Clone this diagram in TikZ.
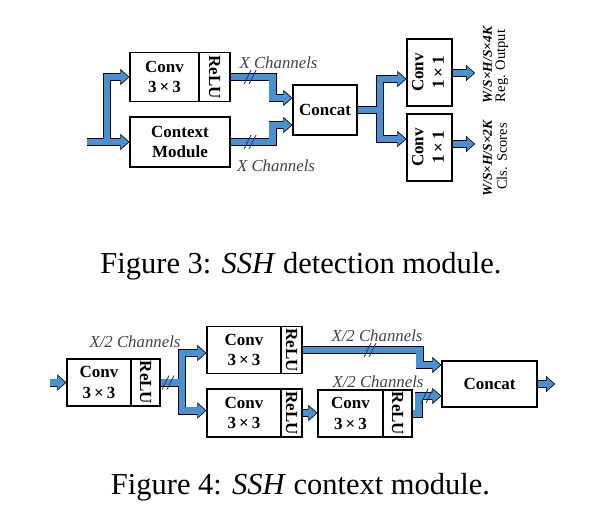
\documentclass[tikz,border=0pt]{standalone}
\usepackage{fontspec}
\setmainfont{Liberation Serif}
\usetikzlibrary{arrows.meta,calc}
\pgfdeclarelayer{bandbg}
\pgfsetlayers{bandbg,main}
\definecolor{bandblue}{RGB}{72,145,210}
\definecolor{slashblue}{RGB}{30,60,140}
\definecolor{labgray}{RGB}{65,65,65}
\tikzset{
  box/.style={draw, line width=1.3pt, inner sep=0pt, align=center,
    font=\fontsize{17}{20.5}\selectfont\bfseries},
  bandout/.style={draw=black, line width=8pt, line join=miter,
    -{Triangle[length=9pt,width=16pt,line width=0.1pt]}},
  bandin/.style={draw=bandblue, line width=6.4pt, line join=miter, shorten >=1.2pt,
    -{Triangle[length=7pt,width=12.4pt,line width=0.1pt]}},
  slash/.style={draw=slashblue, line width=0.9pt},
  chlab/.style={font=\fontsize{16.8}{19}\selectfont\itshape, text=labgray, inner sep=0pt},
  dimlab/.style={font=\fontsize{13.5}{16}\selectfont\bfseries\itshape, inner sep=0pt, rotate=90},
  namelab/.style={font=\fontsize{14.5}{17}\selectfont, inner sep=0pt, rotate=90},
  caption/.style={anchor=base, inner sep=0pt, font=\fontsize{30.5}{36}\selectfont}
}
\newcommand\bandpath[1]{\begin{pgfonlayer}{bandbg}\draw[bandout] #1;\end{pgfonlayer}\draw[bandin] #1;}
\newcommand\slashmark[1]{\draw[slash] ($#1+(-6,7)$) -- ++(7,-14); \draw[slash] ($#1+(-1,7)$) -- ++(7,-14);}
\newcommand\tbt{3\hspace{0.18em}×\hspace{0.18em}3}
\newcommand\onebyone{\rotatebox{90}{\begin{tabular}{@{}c@{}}Conv\\1\hspace{0.18em}×\hspace{0.18em}1\end{tabular}}}
\begin{document}
\begin{tikzpicture}[x=1pt, y=-1pt]
\useasboundingbox (0,0) rectangle (610,525);
% ---------- Figure 3 ----------
\node[box, minimum width=69pt, minimum height=49pt] (convA) at (164.5,77) {Conv\\\tbt};
\node[box, minimum width=31pt, minimum height=49pt] (reluA) at (214.5,77) {\rotatebox{-90}{ReLU}};
\node[box, minimum width=100pt, minimum height=50pt] (ctx) at (180,142) {Context\\Module};
\node[box, minimum width=64pt, minimum height=50pt] (concatA) at (325,110) {Concat};
\node[box, minimum width=45pt, minimum height=67pt] (regconv) at (429.5,72.5) {\onebyone};
\node[box, minimum width=45pt, minimum height=67pt] (clsconv) at (429.5,147.5) {\onebyone};
\coordinate (inA) at (87,142);
\coordinate (jA) at (107,142);
\coordinate (jB) at (380,110);
\coordinate (regout) at (475,73);
\coordinate (clsout) at (475,144);

\bandpath{(inA) -- (ctx.west)}
\bandpath{(jA) |- (convA.west)}
\bandpath{(reluA.east) -- ++(42,0) |- ($(concatA.west)+(0,-12)$)}
\bandpath{(ctx.east) -- ++(42,0) |- ($(concatA.west)+(0,15)$)}
\bandpath{(concatA.east) -- (jB) |- ($(regconv.west)+(0,6.5)$)}
\bandpath{(jB) |- ($(clsconv.west)+(0,-8.5)$)}
\bandpath{($(regconv.east)+(0,0.5)$) -- (regout)}
\bandpath{($(clsconv.east)+(0,-3.5)$) -- (clsout)}

\slashmark{(250,77)}
\slashmark{(250,142)}

\node[chlab] (chA1) at (278.5,63) {X Channels};
\node[chlab] (chA2) at (276,166) {X Channels};
\node[dimlab] (dimA1) at (487.5,65) {W/S×H/S×4K};
\node[namelab] (nameA1) at (502,66) {Reg. Output};
\node[dimlab] (dimA2) at (487.5,158.5) {W/S×H/S×2K};
\node[namelab] (nameA2) at (502,156.5) {Cls. Scores};

\node[caption] (cap3) at (301,273) {Figure 3: \textit{SSH} detection module.};

% ---------- Figure 4 ----------
\node[box, minimum width=64pt, minimum height=47pt] (c1) at (99,382.5) {Conv\\\tbt};
\node[box, minimum width=29pt, minimum height=47pt] (r1) at (145.5,382.5) {\rotatebox{-90}{ReLU}};
\node[box, minimum width=74pt, minimum height=46.6pt] (c2) at (244,350) {Conv\\\tbt};
\node[box, minimum width=21pt, minimum height=46.6pt] (r2) at (291.5,350) {\rotatebox{-90}{ReLU}};
\node[box, minimum width=74pt, minimum height=48pt] (c3) at (244,413) {Conv\\\tbt};
\node[box, minimum width=21pt, minimum height=48pt] (r3) at (291.5,413) {\rotatebox{-90}{ReLU}};
\node[box, minimum width=65pt, minimum height=47pt] (c4) at (350.5,413.5) {Conv\\\tbt};
\node[box, minimum width=29pt, minimum height=47pt] (r4) at (397.5,413.5) {\rotatebox{-90}{ReLU}};
\node[box, minimum width=95pt, minimum height=46pt] (concatB) at (489.5,384) {Concat};
\coordinate (inB) at (50,382.5);
\coordinate (jC) at (182,382.5);
\coordinate (outB) at (555,384);

\bandpath{(inB) -- (c1.west)}
\bandpath{(r1.east) -- (jC) |- ($(c2.west)+(0,3)$)}
\bandpath{(jC) |- ($(c3.west)+(0,-2.5)$)}
\bandpath{(r2.east) -- ++(117,0) |- ($(concatB.west)+(0,-19)$)}
\bandpath{(r3.east) -- (r3.east -| c4.west)}
\bandpath{(r4.east) -- ++(6,0) |- ($(concatB.west)+(0,12)$)}
\bandpath{(concatB.east) -- (outB)}

\slashmark{(168,382.5)}
\slashmark{(370,350)}
\slashmark{(427,396)}

\node[chlab] (chB1) at (135,342) {X/2 Channels};
\node[chlab] (chB2) at (377,336) {X/2 Channels};
\node[chlab] (chB3) at (378,382) {X/2 Channels};

\node[caption] (cap4) at (300.5,494) {Figure 4: \textit{SSH} context module.};
\end{tikzpicture}
\end{document}
